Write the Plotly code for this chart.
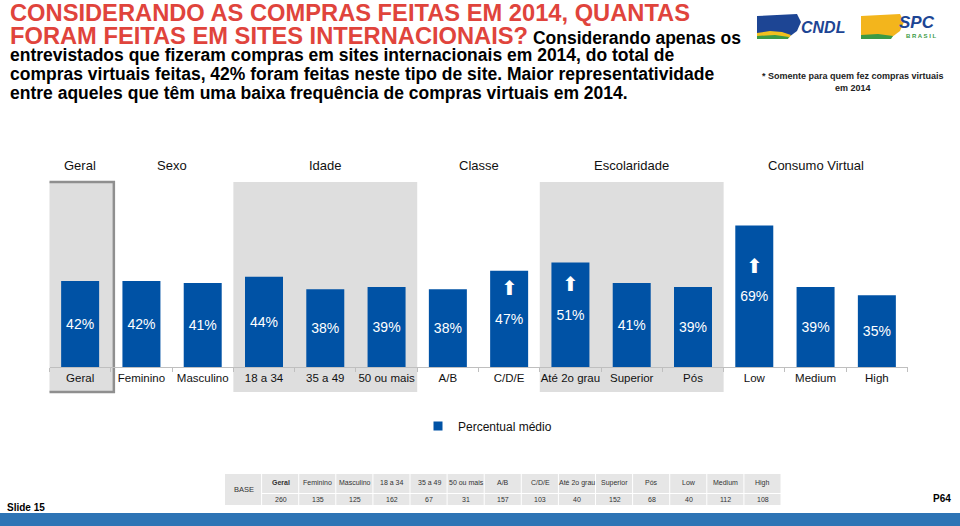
import plotly.graph_objects as go

# ---------------- data ----------------
categories = ["Geral", "Feminino", "Masculino", "18 a 34", "35 a 49", "50 ou mais",
              "A/B", "C/D/E", "Até 2o grau", "Superior", "Pós", "Low", "Medium", "High"]
values = [42, 42, 41, 44, 38, 39, 38, 47, 51, 41, 39, 69, 39, 35]
up_flags = [False, False, False, False, False, False, False, True, True, False, False, True, False, False]
groups = ["Geral", "Sexo", "Idade", "Classe", "Escolaridade", "Consumo Virtual"]
group_sizes = [1, 2, 3, 2, 3, 3]
shaded_groups = ["Geral", "Idade", "Escolaridade"]
base_label = "BASE"
base_n = [260, 135, 125, 162, 67, 31, 157, 103, 40, 152, 68, 40, 112, 108]
series_name = "Percentual médio"

# ---------------- style ----------------
W, H = 960, 526
FONT = "Liberation Sans, Arial, sans-serif"
BLUE = "#0052a5"
RED = "#e0443c"
GRAY = "#dedede"


def px(x):
    return x / W


def py(y):
    return 1 - y / H


def path(points, close=True):
    s = "M" + " L".join(f"{px(x):.5f},{py(y):.5f}" for x, y in points)
    return s + (" Z" if close else "")


def note(x, y, text, size, color="#000", xanchor="center", yanchor="middle", xref="paper", yref="paper",
         family=FONT):
    return dict(x=x, y=y, xref=xref, yref=yref, xanchor=xanchor, yanchor=yanchor, text=text,
                showarrow=False, font=dict(family=family, size=size, color=color))


fig = go.Figure()

fig.add_trace(go.Bar(
    x=categories, y=values,
    marker=dict(color=BLUE, line=dict(width=0)),
    text=[f"{v}%" for v in values],
    textposition="inside", insidetextanchor="middle", textangle=0,
    textfont=dict(family=FONT, size=14, color="white"),
    name=series_name, showlegend=False,
))
# legend entry
fig.add_trace(go.Scatter(
    x=[None], y=[None], mode="markers",
    marker=dict(symbol="square", size=9, color=BLUE),
    name=series_name, showlegend=True,
))

shapes = []
annotations = []

# group backgrounds and headers
start = 0
for g, n in zip(groups, group_sizes):
    lo, hi = start - 0.5, start + n - 0.5
    if g in shaded_groups:
        if g == "Geral":
            shapes.append(dict(type="rect", xref="x", yref="paper", x0=lo - 0.05, x1=hi + 0.05,
                               y0=py(392), y1=py(182), fillcolor=GRAY,
                               line=dict(color="#8f8f8f", width=2.5), layer="below"))
        else:
            shapes.append(dict(type="rect", xref="x", yref="paper", x0=lo, x1=hi,
                               y0=py(392), y1=py(182), fillcolor=GRAY,
                               line=dict(width=0), layer="below"))
    annotations.append(note((lo + hi) / 2, py(165), g, 13, "#111", xref="x"))
    start += n

# significance arrows
for c, v, f in zip(categories, values, up_flags):
    if f:
        annotations.append(note(c, v / 2 + 15, "⬆", 20, "white", xref="x", yref="y", family="DejaVu Sans"))

# title
annotations.append(note(px(8), py(13), "<b>CONSIDERANDO AS COMPRAS FEITAS EM 2014, QUANTAS</b>",
                        23.7, RED, xanchor="left"))
annotations.append(note(px(8), py(35.5),
                        "<b>FORAM FEITAS EM SITES INTERNACIONAIS?</b>"
                        "<span style='font-size:17.5px;color:#000'><b> Considerando apenas os</b></span>",
                        23.7, RED, xanchor="left"))
body = ["entrevistados que fizeram compras em sites internacionais em 2014, do total de",
        "compras virtuais feitas, 42% foram feitas neste tipo de site. Maior representatividade",
        "entre aqueles que têm uma baixa frequência de compras virtuais em 2014."]
for i, line in enumerate(body):
    annotations.append(note(px(8), py(54.5 + 19.5 * i), f"<b>{line}</b>", 17.5, "#000", xanchor="left"))

annotations.append(note(px(853), py(82), "<b>* Somente para quem fez compras virtuais<br>em 2014</b>",
                        9, "#222"))

# logos
shapes.append(dict(type="path", xref="paper", yref="paper",
                   path=path([(757, 16), (797, 14), (801, 22), (797, 31), (789, 37), (757, 38)]),
                   fillcolor="#1d4594", line=dict(width=0)))
shapes.append(dict(type="path", xref="paper", yref="paper",
                   path=path([(757, 33), (770, 31), (782, 32), (791, 35), (789, 38), (757, 38)]),
                   fillcolor="#f2c01e", line=dict(width=0)))
shapes.append(dict(type="path", xref="paper", yref="paper",
                   path=path([(757, 36), (775, 35), (789, 37), (788, 39), (757, 39)]),
                   fillcolor="#3b9a45", line=dict(width=0)))
annotations.append(note(px(799), py(27), "<b><i>CNDL</i></b>", 16, "#1d4594", xanchor="left"))
shapes.append(dict(type="path", xref="paper", yref="paper",
                   path=path([(861, 16), (900, 14), (904, 22), (900, 31), (892, 37), (861, 38)]),
                   fillcolor="#f3b51c", line=dict(width=0)))
shapes.append(dict(type="path", xref="paper", yref="paper",
                   path=path([(861, 35), (878, 34), (893, 36), (891, 39), (861, 39)]),
                   fillcolor="#3b9a45", line=dict(width=0)))
annotations.append(note(px(897), py(22), "<b><i>SPC</i></b>", 17, "#1d4594", xanchor="left"))
annotations.append(note(px(904), py(36), "<b>B R A S I L</b>", 6, "#3b9a45", xanchor="left"))

# base table
tx0, cw = 225, 37.1
hy0, hy1, dy0, dy1 = 474, 493, 494, 505
shapes.append(dict(type="rect", xref="paper", yref="paper", x0=px(tx0), x1=px(tx0 + cw - 1),
                   y0=py(dy1), y1=py(hy0), fillcolor="#e6e6e6", line=dict(width=0)))
annotations.append(note(px(tx0 + cw / 2), py((hy0 + dy1) / 2), base_label, 7.5, "#333"))
for i, (c, n) in enumerate(zip(categories, base_n)):
    x0 = tx0 + cw * (i + 1)
    for (a, b) in [(hy0, hy1), (dy0, dy1)]:
        shapes.append(dict(type="rect", xref="paper", yref="paper", x0=px(x0), x1=px(x0 + cw - 1),
                           y0=py(b), y1=py(a), fillcolor="#e6e6e6", line=dict(width=0)))
    annotations.append(note(px(x0 + cw / 2), py((hy0 + hy1) / 2 - 1),
                            f"<b>{c}</b>" if i == 0 else c, 7, "#333"))
    annotations.append(note(px(x0 + cw / 2), py((dy0 + dy1) / 2), str(n), 7, "#333"))

# footer band
shapes.append(dict(type="rect", xref="paper", yref="paper", x0=0, x1=1, y0=0, y1=py(513),
                   fillcolor="#2e74b5", line=dict(width=0)))
annotations.append(note(px(5), py(507), "<b>Slide 15</b>", 10, "#000", xanchor="left"))
annotations.append(note(px(953), py(498), "<b>P64</b>", 10, "#000", xanchor="right"))

fig.update_layout(
    width=W, height=H, margin=dict(l=0, r=0, t=0, b=0, autoexpand=False),
    paper_bgcolor="white", plot_bgcolor="rgba(0,0,0,0)",
    bargap=0.38,
    xaxis=dict(type="category", domain=[px(49.5), px(907.5)], range=[-0.5, 13.5],
               showline=True, linecolor="#bfbfbf", linewidth=1, ticks="outside",
               tickson="boundaries", ticklen=4, tickcolor="#bfbfbf", showgrid=False,
               tickangle=0, automargin=False,
               tickfont=dict(family=FONT, size=11.5, color="#111")),
    yaxis=dict(domain=[py(367), py(183)], range=[0, 89.8], visible=False),
    legend=dict(orientation="h", x=px(418), y=py(426), xanchor="left", yanchor="middle",
                font=dict(family=FONT, size=12, color="#111"), bgcolor="rgba(0,0,0,0)"),
    shapes=shapes, annotations=annotations,
)

fig.write_html("out.html", config={"displayModeBar": False},
               post_script="document.body.style.margin='0px';")
